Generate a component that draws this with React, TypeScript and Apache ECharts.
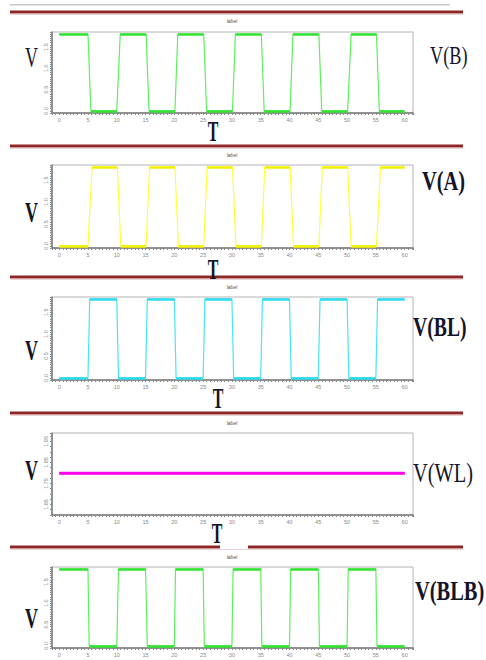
import React, { useEffect, useRef } from "react";
import * as echarts from "echarts";

// ---- tick labels ----
const xTickValues = [0, 5, 10, 15, 20, 25, 30, 35, 40, 45, 50, 55, 60];
const squareYTicks = [0, 0.5, 1.0, 1.5];
const wlYTicks = [1.65, 1.75, 1.85, 1.95];

// ---- signals (time, volts) ----
const tB = [0, 5, 5.5, 10, 10.6, 15.1, 15.6, 20.1, 20.6, 25.1, 25.6, 30.1, 30.6, 35.1, 35.6, 40.1, 40.6, 45.1, 45.6, 50.1, 50.7, 55.1, 55.6, 60];
const vB = [1.8, 1.8, 0, 0, 1.8, 1.8, 0, 0, 1.8, 1.8, 0, 0, 1.8, 1.8, 0, 0, 1.8, 1.8, 0, 0, 1.8, 1.8, 0, 0];

const tA = [0, 5, 5.7, 10.1, 10.7, 15.1, 15.7, 20.1, 20.7, 25.1, 25.7, 30.1, 30.7, 35.1, 35.7, 40.1, 40.7, 45.1, 45.7, 50.1, 50.7, 55.1, 55.8, 60];
const vA = [0, 0, 1.8, 1.8, 0, 0, 1.8, 1.8, 0, 0, 1.8, 1.8, 0, 0, 1.8, 1.8, 0, 0, 1.8, 1.8, 0, 0, 1.8, 1.8];

const tBL = [0, 5, 5.3, 10, 10.3, 15, 15.3, 20, 20.3, 25, 25.3, 30, 30.3, 35, 35.3, 40, 40.3, 45, 45.3, 50, 50.3, 55, 55.3, 60];
const vBL = [0, 0, 1.8, 1.8, 0, 0, 1.8, 1.8, 0, 0, 1.8, 1.8, 0, 0, 1.8, 1.8, 0, 0, 1.8, 1.8, 0, 0, 1.8, 1.8];

const tWL = [0, 60];
const vWL = [1.8, 1.8];

const tBLB = [0, 5, 5.2, 10, 10.3, 15, 15.3, 20, 20.2, 25, 25.2, 30, 30.2, 35, 35.2, 40, 40.2, 45, 45.2, 50, 50.2, 55, 55.2, 60];
const vBLB = [1.8, 1.8, 0, 0, 1.8, 1.8, 0, 0, 1.8, 1.8, 0, 0, 1.8, 1.8, 0, 0, 1.8, 1.8, 0, 0, 1.8, 1.8, 0, 0];

const signalNames = ["V(B)", "V(A)", "V(BL)", "V(WL)", "V(BLB)"];
const plotTitle = "label";

const SERIF = '"Liberation Serif", "DejaVu Serif", serif';
const INK = "#141428";

export default function App() {
  const ref = useRef<HTMLDivElement>(null);

  useEffect(() => {
    if (!ref.current) return;
    const chart = echarts.init(ref.current, null, { renderer: "svg" });

    const panels = [
      { t: tB, v: vB, top: 32, height: 81, edge: "#5cf05c", flat: "#33e333", width: 1.2, flatW: 2.5, yTicks: squareYTicks, ymin: -0.05, ymax: 1.85, yint: 0.05, dec: 1,
        title: 21, vY: 57, vBold: false, nameX: 430, nameY: 56, nameBold: false, nameSize: 25, showT: true, tX: 213, tY: 131, redTop: 12 },
      { t: tA, v: vA, top: 165, height: 83, edge: "#ffff3a", flat: "#f2f000", width: 1.2, flatW: 2.5, yTicks: squareYTicks, ymin: -0.05, ymax: 1.85, yint: 0.05, dec: 1,
        title: 155, vY: 212, vBold: true, nameX: 422, nameY: 180, nameBold: true, nameSize: 28, showT: true, tX: 213, tY: 269, redTop: 146 },
      { t: tBL, v: vBL, top: 297, height: 83, edge: "#45e6f5", flat: "#2ddbec", width: 1.2, flatW: 2.5, yTicks: squareYTicks, ymin: -0.05, ymax: 1.85, yint: 0.05, dec: 1,
        title: 287, vY: 350, vBold: true, nameX: 413, nameY: 327, nameBold: true, nameSize: 27, showT: true, tX: 218, tY: 398, redTop: 277 },
      { t: tWL, v: vWL, top: 433, height: 82, edge: "#ff11ee", flat: "#ff00ee", width: 2.5, flatW: 2.5, yTicks: wlYTicks, ymin: 1.6, ymax: 1.99, yint: 0.025, dec: 2,
        title: 423, vY: 470, vBold: true, nameX: 413, nameY: 472, nameBold: false, nameSize: 28, showT: true, tX: 217, tY: 533, redTop: 413 },
      { t: tBLB, v: vBLB, top: 567, height: 81, edge: "#5cf05c", flat: "#33e333", width: 1.2, flatW: 2.5, yTicks: squareYTicks, ymin: -0.05, ymax: 1.85, yint: 0.05, dec: 1,
        title: 557, vY: 618, vBold: true, nameX: 415, nameY: 590, nameBold: true, nameSize: 28, showT: false, tX: 0, tY: 0, redTop: 547 },
    ];

    const grids: any[] = [];
    const xAxes: any[] = [];
    const yAxes: any[] = [];
    const series: any[] = [];
    const graphic: any[] = [];

    // top gray line
    graphic.push({ type: "rect", shape: { x: 10, y: 4, width: 440, height: 1.5 }, style: { fill: "#c8c8c8" }, silent: true });

    panels.forEach((p, i) => {
      grids.push({ left: 52, top: p.top, width: 361, height: p.height, show: true, borderColor: "#b4b4b4", borderWidth: 1, backgroundColor: "#fff" });
      xAxes.push({
        gridIndex: i, type: "value", min: -1.25, max: 61.45, interval: 0.625,
        axisLine: { show: true, onZero: false, lineStyle: { color: "#7a7a7a", width: 1.5 } },
        axisTick: { show: true, length: 2, lineStyle: { color: "#8a8a8a", width: 1 } },
        axisLabel: {
          fontSize: 5.5, color: "#8a8a8a", margin: 4, showMinLabel: true, showMaxLabel: true,
          formatter: (val: number) => {
            const m = xTickValues.find((t) => Math.abs(t - val) < 1e-6);
            return m === undefined ? "" : String(m);
          },
        },
        splitLine: { show: false },
      });
      yAxes.push({
        gridIndex: i, type: "value", min: p.ymin, max: p.ymax, interval: p.yint,
        axisLine: { show: true, onZero: false, lineStyle: { color: "#7a7a7a", width: 1.5 } },
        axisTick: { show: true, length: 2, lineStyle: { color: "#8a8a8a", width: 1 } },
        axisLabel: {
          fontSize: 5.5, color: "#8a8a8a", margin: 3, rotate: 90,
          formatter: (val: number) => {
            const m = p.yTicks.find((t) => Math.abs(t - val) < 1e-6);
            return m === undefined ? "" : m.toFixed(p.dec);
          },
        },
        splitLine: { show: false },
      });

      series.push({
        type: "line", xAxisIndex: i, yAxisIndex: i, showSymbol: false, symbol: "none",
        data: p.t.map((x, j) => [x, p.v[j]]),
        lineStyle: { color: p.edge, width: p.width }, z: 3, silent: true,
      });
      const flats: any[] = [];
      for (let j = 0; j < p.t.length - 1; j++) {
        if (p.v[j] === p.v[j + 1]) flats.push({ coords: [[p.t[j], p.v[j]], [p.t[j + 1], p.v[j + 1]]] });
      }
      series.push({
        type: "lines", coordinateSystem: "cartesian2d", xAxisIndex: i, yAxisIndex: i,
        data: flats, lineStyle: { color: p.flat, width: p.flatW, opacity: 1, curveness: 0 }, z: 4, silent: true,
      });

      // red separator line above panel
      graphic.push({ type: "rect", shape: { x: 10, y: p.redTop - 1.5, width: 453, height: 3 }, style: { fill: "#8f2626" }, silent: true });
      graphic.push({ type: "rect", shape: { x: 10, y: p.redTop + 1.5, width: 453, height: 1 }, style: { fill: "#d9a5a5" }, silent: true });

      // tiny title
      graphic.push({ type: "text", x: 232, y: p.title, silent: true,
        style: { text: plotTitle, font: '5px "Liberation Sans", sans-serif', fill: "#555", align: "center", verticalAlign: "middle" } });
      // left V
      graphic.push({ type: "text", x: 25, y: p.vY, scaleX: 0.62, silent: true, z: 10,
        style: { text: "V", font: `${p.vBold ? "bold " : ""}29px ${SERIF}`, fill: INK, align: "left", verticalAlign: "middle" } });
      // right signal name
      graphic.push({ type: "text", x: p.nameX, y: p.nameY, scaleX: 0.73, silent: true, z: 10,
        style: { text: signalNames[i], font: `${p.nameBold ? "bold " : ""}${p.nameSize}px ${SERIF}`, fill: INK, align: "left", verticalAlign: "middle" } });
      // T
      if (p.showT) {
        graphic.push({ type: "text", x: p.tX, y: p.tY, scaleX: 0.55, silent: true, z: 10,
          style: { text: "T", font: `bold 29px ${SERIF}`, fill: INK, align: "center", verticalAlign: "middle" } });
      }
    });

    // white gap on the last red line
    graphic.push({ type: "rect", shape: { x: 220, y: 545, width: 28, height: 4 }, style: { fill: "#fff" }, silent: true, z: 5 });

    chart.setOption({
      animation: false,
      backgroundColor: "#fff",
      grid: grids,
      xAxis: xAxes,
      yAxis: yAxes,
      series,
      graphic: { elements: graphic },
    });

    return () => chart.dispose();
  }, []);

  return <div ref={ref} style={{ position: "fixed", left: 0, top: 0, width: 486, height: 660 }} />;
}
